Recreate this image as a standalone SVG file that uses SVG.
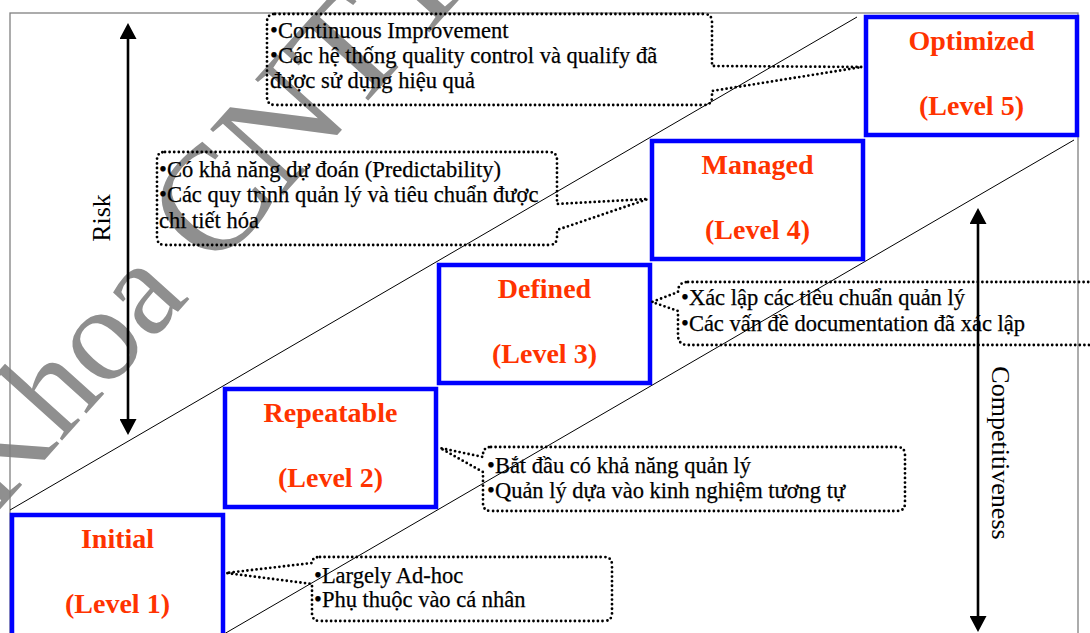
<svg xmlns="http://www.w3.org/2000/svg" width="1090" height="633" viewBox="0 0 1090 633">
  <style>
    .frame { fill: none; stroke: #808080; stroke-width: 1.3; }
    .diag { stroke: #000; stroke-width: 1; fill: none; }
    .level { fill: none; stroke: #0000ff; stroke-width: 4.5; }
    .title { font-family: "Liberation Serif", "Times New Roman", serif; font-weight: bold; font-size: 28px; fill: #ff3300; text-anchor: middle; }
    .callout { fill: none; stroke: #000; stroke-width: 2.8; stroke-dasharray: 0 4.6; stroke-linecap: round; stroke-linejoin: round; }
    .note { font-family: "Liberation Serif", "Times New Roman", serif; font-size: 22.5px; fill: #000; stroke: #000; stroke-width: 0.25; }
    .axis { stroke: #000; stroke-width: 2.6; fill: none; }
    .axislabel { font-family: "Liberation Serif", "Times New Roman", serif; font-size: 26px; fill: #000; text-anchor: middle; }
    .mark { font-family: "Liberation Serif", "Times New Roman", serif; font-size: 135px; fill: #8f8f8f; }
  </style>
  <defs>
    <marker id="head" viewBox="0 0 16 17" markerWidth="16" markerHeight="17" refX="9" refY="8.5" orient="auto-start-reverse" markerUnits="userSpaceOnUse">
      <path d="M0,0 L16,8.5 L0,17 Z" fill="#000"/>
    </marker>
  </defs>

  <rect width="1090" height="633" fill="#fff"/>

  <!-- watermark -->
  <text class="mark" x="-5" y="515" transform="rotate(-48 -5 515)">Khoa <tspan font-size="150">CNTT</tspan></text>

  <!-- outer frame -->
  <rect class="frame" x="10" y="13" width="1068" height="650"/>

  <!-- staircase guide lines -->
  <g id="guides">
    <line class="diag" x1="10" y1="510" x2="857" y2="17"/>
    <line class="diag" x1="224" y1="634" x2="1074" y2="140"/>
  </g>

  <!-- maturity levels -->
  <g id="level1">
    <rect class="level" x="12" y="515" width="211" height="140"/>
    <text class="title" x="117.5" y="548">Initial</text>
    <text class="title" x="117.5" y="613">(Level 1)</text>
  </g>
  <g id="level2">
    <rect class="level" x="225" y="389" width="211" height="118"/>
    <text class="title" x="330.5" y="422">Repeatable</text>
    <text class="title" x="330.5" y="487">(Level 2)</text>
  </g>
  <g id="level3">
    <rect class="level" x="439" y="265" width="211" height="118"/>
    <text class="title" x="544.5" y="298">Defined</text>
    <text class="title" x="544.5" y="363">(Level 3)</text>
  </g>
  <g id="level4">
    <rect class="level" x="652" y="141" width="211" height="118"/>
    <text class="title" x="757.5" y="174">Managed</text>
    <text class="title" x="757.5" y="239">(Level 4)</text>
  </g>
  <g id="level5">
    <rect class="level" x="866" y="17" width="211" height="118"/>
    <text class="title" x="971.5" y="50">Optimized</text>
    <text class="title" x="971.5" y="115">(Level 5)</text>
  </g>

  <!-- callout notes -->
  <g id="note5">
    <path class="callout" d="M275,14 H704 Q712,14 712,22 V66 L862,67 L712,91 V97 Q712,105 704,105 H275 Q267,105 267,97 V22 Q267,14 275,14 Z"/>
    <text class="note" x="270" y="38">•Continuous Improvement</text>
    <text class="note" x="270" y="63">•Các hệ thống quality control và qualify đã</text>
    <text class="note" x="270" y="88">được sử dụng hiệu quả</text>
  </g>
  <g id="note4">
    <path class="callout" d="M165,152 H549 Q557,152 557,160 V204 L648,199 L557,230 V237 Q557,245 549,245 H165 Q157,245 157,237 V160 Q157,152 165,152 Z"/>
    <text class="note" x="159" y="177">•Có khả năng dự đoán (Predictability)</text>
    <text class="note" x="159" y="202">•Các quy trình quản lý và tiêu chuẩn được</text>
    <text class="note" x="159" y="228">chi tiết hóa</text>
  </g>
  <g id="note3">
    <path class="callout" d="M688,282 H1110 V345 H688 Q678,345 678,335 V311 L652,302 L678,292 Q678,282 688,282 Z"/>
    <text class="note" x="681" y="305">•Xác lập các tiêu chuẩn quản lý</text>
    <text class="note" x="681" y="331">•Các vấn đề documentation đã xác lập</text>
  </g>
  <g id="note2">
    <path class="callout" d="M491,447 H897 Q905,447 905,455 V503 Q905,511 897,511 H491 Q483,511 483,503 V472 L440,448 L483,457 V455 Q483,447 491,447 Z"/>
    <text class="note" x="487" y="473">•Bắt đầu có khả năng quản lý</text>
    <text class="note" x="487" y="498">•Quản lý dựa vào kinh nghiệm tương tự</text>
  </g>
  <g id="note1">
    <path class="callout" d="M320,557 H604 Q612,557 612,565 V613 Q612,621 604,621 H320 Q312,621 312,613 V584 L226,573 L312,563 Q312,557 320,557 Z"/>
    <text class="note" x="314" y="583">•Largely Ad-hoc</text>
    <text class="note" x="314" y="607">•Phụ thuộc vào cá nhân</text>
  </g>

  <!-- axes -->
  <g id="connectors">
    <line class="axis" x1="128" y1="30" x2="128" y2="428" marker-start="url(#head)" marker-end="url(#head)"/>
    <line class="axis" x1="978" y1="215" x2="978" y2="625" marker-start="url(#head)" marker-end="url(#head)"/>
  </g>
  <g id="axis-labels">
    <text class="axislabel" x="110" y="218" transform="rotate(-90 110 218)">Risk</text>
    <text class="axislabel" x="992" y="453" font-size="28" transform="rotate(90 992 453)">Competitiveness</text>
  </g>
</svg>
